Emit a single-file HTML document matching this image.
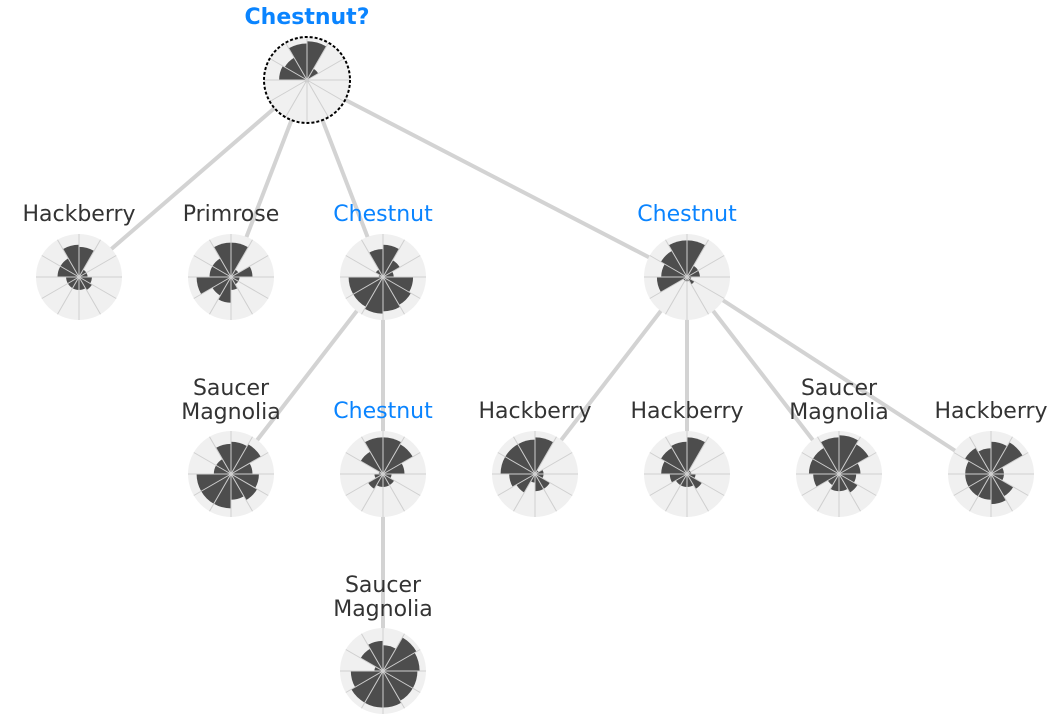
<!DOCTYPE html>
<html><head><meta charset="utf-8"><style>
html,body{margin:0;padding:0;background:#fff;width:1055px;height:726px;overflow:hidden}
text{font-family:"DejaVu Sans","Liberation Sans",sans-serif;font-size:22px;text-anchor:middle;fill:#333}
</style></head><body>
<svg id="s" width="1055" height="726" xmlns="http://www.w3.org/2000/svg">
<g stroke="#d3d3d3" stroke-width="4">
<line x1="307" y1="80" x2="79" y2="277"/><line x1="307" y1="80" x2="231" y2="277"/>
<line x1="307" y1="80" x2="383" y2="277"/><line x1="307" y1="80" x2="687" y2="277"/>
<line x1="383" y1="277" x2="231" y2="474"/><line x1="383" y1="277" x2="383" y2="474"/>
<line x1="383" y1="474" x2="383" y2="671"/>
<line x1="687" y1="277" x2="535" y2="474"/><line x1="687" y1="277" x2="687" y2="474"/>
<line x1="687" y1="277" x2="839" y2="474"/><line x1="687" y1="277" x2="991" y2="474"/>
</g>
<g id="charts"></g>
<text x="307" y="24" style="fill:#0a84ff;font-weight:bold">Chestnut?</text>
<text x="79" y="221">Hackberry</text>
<text x="231" y="221">Primrose</text>
<text x="383" y="221" style="fill:#0a84ff">Chestnut</text>
<text x="687" y="221" style="fill:#0a84ff">Chestnut</text>
<text x="231" y="395">Saucer</text><text x="231" y="419">Magnolia</text>
<text x="383" y="418" style="fill:#0a84ff">Chestnut</text>
<text x="535" y="418">Hackberry</text>
<text x="687" y="418">Hackberry</text>
<text x="839" y="395">Saucer</text><text x="839" y="419">Magnolia</text>
<text x="991" y="418">Hackberry</text>
<text x="383" y="592">Saucer</text><text x="383" y="616">Magnolia</text>
</svg>
<script>
var N=[
[307,80,[.9,.3,.05,.05,.05,.05,.05,.05,.05,.65,.6,.85],1],
[79,277,[.7,.2,.2,.3,.35,.3,.3,.3,.3,.5,.5,.75]],
[231,277,[.8,.2,.5,.2,.2,.3,.6,.5,.8,.5,.5,.8]],
[383,277,[.75,.45,.25,.7,.75,.8,.85,.8,.8,.1,.2,.65]],
[687,277,[.85,.3,.3,.1,.2,.1,.1,.1,.7,.6,.7,.85]],
[231,474,[.75,.8,.5,.65,.7,.6,.8,.8,.8,.4,.4,.7]],
[383,474,[.85,.8,.5,.2,.3,.3,.3,.4,.2,.1,.6,.85]],
[535,474,[.85,.1,.2,.2,.4,.4,.2,.5,.6,.8,.8,.8]],
[687,474,[.85,.1,.1,.2,.4,.3,.3,.3,.4,.6,.7,.75]],
[839,474,[.9,.8,.5,.4,.5,.4,.4,.3,.6,.7,.7,.85]],
[991,474,[.75,.85,.3,.3,.6,.7,.6,.6,.6,.6,.7,.6]],
[383,671,[.6,.9,.85,.8,.8,.85,.85,.85,.75,.2,.6,.7]]];
var h='',R=43;
function pt(cx,cy,r,a){a=(a-90)*Math.PI/180;return (cx+r*Math.cos(a)).toFixed(1)+','+(cy+r*Math.sin(a)).toFixed(1);}
N.forEach(function(n){var cx=n[0],cy=n[1];
h+='<circle cx="'+cx+'" cy="'+cy+'" r="'+R+'" fill="#f0f0f0"/>';
n[2].forEach(function(v,i){var r=v*R,a=i*30;
h+='<path d="M'+cx+','+cy+' L'+pt(cx,cy,r,a)+' A'+r+','+r+' 0 0 1 '+pt(cx,cy,r,a+30)+' Z" fill="#4d4d4d"/>';});
for(var i=0;i<12;i++)h+='<line x1="'+cx+'" y1="'+cy+'" x2="'+pt(cx,cy,R,i*30).split(',')[0]+'" y2="'+pt(cx,cy,R,i*30).split(',')[1]+'" stroke="#cfcfcf" stroke-width="1"/>';
if(n[3])h+='<circle cx="'+cx+'" cy="'+cy+'" r="'+R+'" fill="none" stroke="#000" stroke-width="2" stroke-dasharray="3,2"/>';
});
document.getElementById('charts').innerHTML=h;
</script>
</body></html>
